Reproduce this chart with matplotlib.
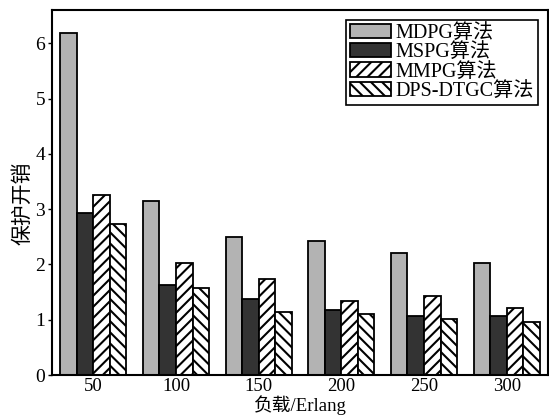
import matplotlib
matplotlib.use("Agg")
import matplotlib.pyplot as plt
import numpy as np

plt.rcParams['font.family'] = ['Liberation Serif', 'Noto Sans CJK SC']
plt.rcParams['hatch.linewidth'] = 1.5

categories = ['50', '100', '150', '200', '250', '300']
series_names = ['MDPG算法', 'MSPG算法', 'MMPG算法', 'DPS-DTGC算法']
mdpg = [6.18, 3.15, 2.49, 2.42, 2.20, 2.02]
mspg = [2.93, 1.62, 1.37, 1.18, 1.07, 1.07]
mmpg = [3.25, 2.02, 1.74, 1.33, 1.43, 1.21]
dps = [2.73, 1.58, 1.14, 1.10, 1.01, 0.95]
yticks = [0, 1, 2, 3, 4, 5, 6]

fig = plt.figure(figsize=(5.49, 4.17), dpi=100)
ax = fig.add_axes([0.0947, 0.1007, 0.9035, 0.875])

x = np.arange(len(categories))
w = 0.2
styles = [
    dict(color='#b3b3b3', hatch=None),
    dict(color='#333333', hatch=None),
    dict(color='white', hatch='///'),
    dict(color='white', hatch='\\\\\\'),
]
for i, (vals, name, st) in enumerate(zip([mdpg, mspg, mmpg, dps], series_names, styles)):
    ax.bar(x + (i - 1.5) * w, vals, w, color=st['color'], edgecolor='black',
           linewidth=1.3, hatch=st['hatch'], label=name)

ax.set_xlim(-0.5, 5.5)
ax.set_ylim(0, 6.6)
ax.set_xticks(x)
ax.set_xticklabels(categories)
ax.set_yticks(yticks)
ax.tick_params(axis='x', length=0, labelsize=13.5, pad=2)
ax.tick_params(axis='y', length=3, width=1, labelsize=14, direction='out', pad=2)
for s in ax.spines.values():
    s.set_linewidth(1.5)

ax.set_xlabel('负载/Erlang', fontsize=13.5, labelpad=0)
ax.set_ylabel('保护开销', fontsize=15)
ax.yaxis.set_label_coords(-0.038, 0.47)

leg = ax.legend(loc='upper right', fontsize=14.5, frameon=True, fancybox=False,
                edgecolor='black', framealpha=1, handlelength=2.0, handleheight=0.7,
                labelspacing=0.0, handletextpad=0.25, borderpad=0.2,
                borderaxespad=0.5)
leg.get_frame().set_linewidth(1.2)

fig.savefig('out.png', dpi=100)
